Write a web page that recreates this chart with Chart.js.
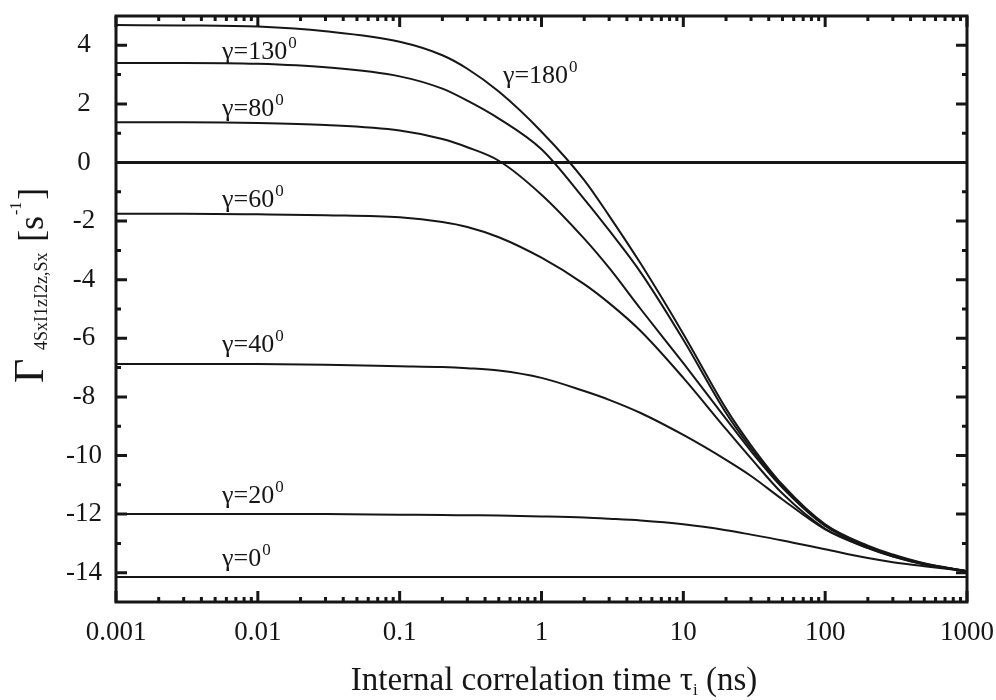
<!DOCTYPE html>
<html>
<head>
<meta charset="utf-8">
<script src="https://cdn.jsdelivr.net/npm/chart.js@4.4.1/dist/chart.umd.min.js"></script>
<style>
  html, body { margin: 0; padding: 0; background: #fff; }
  #wrap { width: 996px; height: 700px; }
</style>
</head>
<body>
<div id="wrap"><canvas id="chart" width="996" height="700"></canvas></div>
<script>
// internal correlation time (ns) at which the curves were read
const tau = [0.001, 0.003, 0.01, 0.03, 0.1, 0.2, 0.3, 0.5, 1, 2, 3, 5, 10, 20, 30, 50, 100, 200, 300, 500, 1000];

// rate values, one list per angle
const gamma180 = [4.69, 4.68, 4.64, 4.48, 4.12, 3.66, 3.2, 2.42, 1.05, -0.6, -1.82, -3.45, -5.85, -8.4, -9.65, -11.0, -12.35, -13.08, -13.38, -13.68, -13.95];
const gamma130 = [3.4, 3.4, 3.37, 3.25, 2.94, 2.52, 2.11, 1.5, 0.45, -1.25, -2.32, -3.75, -6.05, -8.55, -9.75, -11.05, -12.38, -13.1, -13.4, -13.69, -13.95];
const gamma80 = [1.37, 1.37, 1.35, 1.28, 1.09, 0.8, 0.52, 0.06, -1.1, -2.6, -3.6, -5.0, -6.85, -8.75, -9.85, -11.1, -12.4, -13.12, -13.42, -13.7, -13.95];
const zeroLine = [0, 0, 0, 0, 0, 0, 0, 0, 0, 0, 0, 0, 0, 0, 0, 0, 0, 0, 0, 0, 0];
const gamma60 = [-1.75, -1.75, -1.77, -1.8, -1.87, -2.03, -2.2, -2.55, -3.25, -4.15, -4.8, -5.75, -7.35, -9.1, -10.1, -11.3, -12.5, -13.15, -13.44, -13.71, -13.95];
const gamma40 = [-6.88, -6.88, -6.88, -6.9, -6.95, -6.98, -7.02, -7.1, -7.35, -7.8, -8.1, -8.55, -9.3, -10.15, -10.7, -11.5, -12.52, -13.16, -13.45, -13.72, -13.95];
const gamma20 = [-12.0, -12.0, -12.0, -12.0, -12.02, -12.03, -12.04, -12.05, -12.08, -12.12, -12.16, -12.22, -12.35, -12.55, -12.7, -12.9, -13.2, -13.5, -13.64, -13.78, -13.95];
const gamma0 = [-14.15, -14.15, -14.15, -14.15, -14.15, -14.15, -14.15, -14.15, -14.15, -14.15, -14.15, -14.15, -14.15, -14.15, -14.15, -14.15, -14.15, -14.15, -14.15, -14.15, -14.15];

// axis ticks
const xTicks = [0.001, 0.01, 0.1, 1, 10, 100, 1000];
const yTicks = [-14, -12, -10, -8, -6, -4, -2, 0, 2, 4];
const yMinorTicks = [-13, -11, -9, -7, -5, -3, -1, 1, 3];

// curve labels: text, tau where the label starts, value of its baseline
const labelText = ['γ=180', 'γ=130', 'γ=80', 'γ=60', 'γ=40', 'γ=20', 'γ=0'];
const labelTau = [0.535, 0.0056, 0.0056, 0.0056, 0.0056, 0.0056, 0.0056];
const labelValue = [2.7, 3.54, 1.6, -1.53, -6.46, -11.63, -13.78];

const series = [gamma180, gamma130, gamma80, zeroLine, gamma60, gamma40, gamma20, gamma0];
const seriesNames = ['180', '130', '80', 'zero', '60', '40', '20', '0'];

const ink = '#161616';
const serif = '"Liberation Serif", "Times New Roman", serif';

const datasets = series.map((vals, i) => ({
  label: seriesNames[i],
  data: vals.map((v, k) => ({ x: tau[k], y: v })),
  borderColor: ink,
  borderWidth: seriesNames[i] === 'zero' ? 3 : 2,
  pointRadius: 0,
  fill: false,
  cubicInterpolationMode: 'monotone'
}));

// frame with inward ticks on all four sides
const frameTicks = {
  id: 'frameTicks',
  afterDatasetsDraw(chart) {
    const { ctx, chartArea: a, scales: { x, y } } = chart;
    ctx.save();
    ctx.strokeStyle = ink;
    ctx.lineCap = 'butt';
    ctx.lineWidth = 3;
    ctx.strokeRect(a.left, a.top, a.right - a.left, a.bottom - a.top);

    ctx.beginPath();
    for (let d = 0; d < xTicks.length; d++) {
      const px = x.getPixelForValue(xTicks[d]);
      ctx.moveTo(px, a.bottom); ctx.lineTo(px, a.bottom - 11);
      ctx.moveTo(px, a.top); ctx.lineTo(px, a.top + 11);
      if (d < xTicks.length - 1) {
        for (let m = 2; m <= 9; m++) {
          const mx = x.getPixelForValue(xTicks[d] * m);
          ctx.moveTo(mx, a.bottom); ctx.lineTo(mx, a.bottom - 5);
          ctx.moveTo(mx, a.top); ctx.lineTo(mx, a.top + 5);
        }
      }
    }
    yTicks.forEach(v => {
      const py = y.getPixelForValue(v);
      ctx.moveTo(a.left, py); ctx.lineTo(a.left + 11, py);
      ctx.moveTo(a.right, py); ctx.lineTo(a.right - 11, py);
    });
    yMinorTicks.forEach(v => {
      const py = y.getPixelForValue(v);
      ctx.moveTo(a.left, py); ctx.lineTo(a.left + 5, py);
      ctx.moveTo(a.right, py); ctx.lineTo(a.right - 5, py);
    });
    ctx.lineWidth = 3;
    ctx.stroke();
    ctx.restore();
  }
};

// curve labels and axis titles (with sub/superscripts)
const texts = {
  id: 'texts',
  afterDraw(chart) {
    const { ctx, scales: { x, y } } = chart;
    ctx.save();
    ctx.fillStyle = ink;
    ctx.textBaseline = 'alphabetic';
    ctx.textAlign = 'left';

    labelText.forEach((t, i) => {
      const px = x.getPixelForValue(labelTau[i]);
      const py = y.getPixelForValue(labelValue[i]);
      ctx.font = '26px ' + serif;
      ctx.fillText(t, px, py);
      const w = ctx.measureText(t).width;
      ctx.font = '17px ' + serif;
      ctx.fillText('0', px + w + 1, py - 11);
    });

    // x title
    ctx.font = '33px ' + serif;
    const main = 'Internal correlation time τ';
    const tail = ' (ns)';
    const wMain = ctx.measureText(main).width;
    const wTail = ctx.measureText(tail).width;
    ctx.font = '17px ' + serif;
    const wSub = ctx.measureText('i').width;
    const total = wMain + wSub + wTail;
    const sx = 554 - total / 2;
    ctx.font = '33px ' + serif;
    ctx.fillText(main, sx, 690);
    ctx.font = '17px ' + serif;
    ctx.fillText('i', sx + wMain, 695);
    ctx.font = '33px ' + serif;
    ctx.fillText(tail, sx + wMain + wSub, 690);

    // y title, rotated
    ctx.translate(43, 383);
    ctx.rotate(-Math.PI / 2);
    ctx.font = '42px ' + serif;
    ctx.fillText('Γ', 0, 0);
    ctx.font = '18px ' + serif;
    ctx.fillText('4SxI1zI2z,Sx', 33, 4);
    ctx.font = '36px ' + serif;
    ctx.fillText('[s', 141, 0);
    const wb = ctx.measureText('[s').width;
    ctx.font = '16px ' + serif;
    ctx.fillText('-1', 141 + wb + 1, -22);
    const ws = ctx.measureText('-1').width;
    ctx.font = '36px ' + serif;
    ctx.fillText(']', 141 + wb + ws + 3, 0);
    ctx.restore();
  }
};

new Chart(document.getElementById('chart'), {
  type: 'line',
  data: { datasets },
  options: {
    responsive: false,
    devicePixelRatio: 1,
    animation: false,
    layout: { padding: { top: 16, right: 29, left: 0, bottom: 0 } },
    plugins: { legend: { display: false }, tooltip: { enabled: false } },
    scales: {
      x: {
        type: 'logarithmic',
        min: 0.001,
        max: 1000,
        grid: { display: false },
        border: { display: false },
        afterBuildTicks: s => { s.ticks = xTicks.map(v => ({ value: v })); },
        afterFit: s => { s.height = 98; s.paddingLeft = 0; s.paddingRight = 0; },
        ticks: {
          autoSkip: false,
          maxRotation: 0,
          padding: 7,
          color: ink,
          font: { family: serif, size: 27 },
          callback: v => String(v)
        }
      },
      y: {
        type: 'linear',
        min: -15,
        max: 5,
        grid: { display: false },
        border: { display: false },
        afterBuildTicks: s => { s.ticks = yTicks.map(v => ({ value: v })); },
        afterFit: s => { s.width = 116; s.paddingTop = 0; s.paddingBottom = 0; },
        ticks: {
          padding: 6,
          crossAlign: 'center',
          color: ink,
          font: { family: serif, size: 27 },
          callback: v => String(v)
        }
      }
    }
  },
  plugins: [frameTicks, texts]
});
</script>
</body>
</html>
